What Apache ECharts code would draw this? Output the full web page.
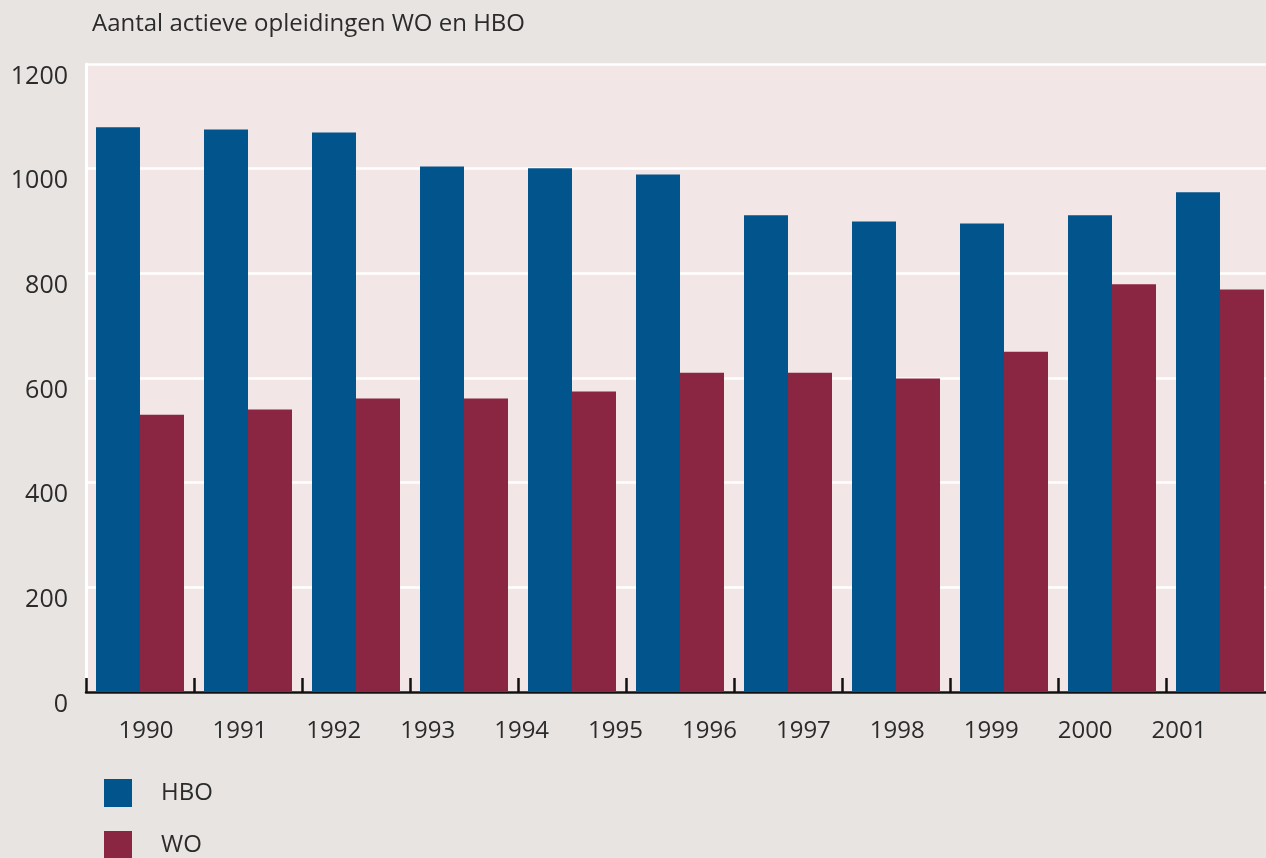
<!DOCTYPE html>
<html>
<head>
    <meta http-equiv="Content-Type" content="text/html; charset=utf-8"/>
    <script src="https://cdn.jsdelivr.net/npm/echarts@6/dist/echarts.min.js"></script>
    <style>
        body { margin: 0; background: #e8e4e1; }
    </style>
</head>
<body>
<div id="main" style="width:1266px;height:858px"></div>

<script type="text/javascript">
    // tick labels under the chart (12 of them, the bars only come in 11 groups)
    var years = ['1990', '1991', '1992', '1993', '1994', '1995', '1996', '1997', '1998', '1999', '2000', '2001'];
    // bar values
    var hbo = [1079, 1075, 1069, 1004, 1001, 989, 911, 899, 895, 911, 955];
    var wo = [530, 540, 561, 561, 574, 610, 610, 599, 650, 779, 769];
    var yTicks = [0, 200, 400, 600, 800, 1000, 1200];

    var groups = years.slice(0, hbo.length);
    var font = '"Open Sans", "Noto Sans", sans-serif';
    var textColor = '#2b2b2b';

    // one legend per row, so they stack even though the canvas cuts the second one
    function legendRow(name, top) {
        return {
            orient: 'vertical',
            left: 104,
            top: top,
            padding: 0,
            itemWidth: 28,
            itemHeight: 28,
            icon: 'rect',
            data: [name],
            textStyle: {color: textColor, fontSize: 24, fontFamily: font, padding: [0, 0, 0, 24]}
        };
    }

    var chart = echarts.init(document.getElementById('main'));
    var option = {
        backgroundColor: '#e8e4e1',
        animation: false,
        title: {
            text: 'Aantal actieve opleidingen WO en HBO',
            left: 92,
            top: 12,
            padding: 0,
            textStyle: {color: textColor, fontSize: 24, fontWeight: 'normal', fontFamily: font}
        },
        legend: [legendRow('HBO', 779), legendRow('WO', 831)],
        grid: [
            // the last bar group runs past the right edge of the picture
            {left: 86, top: 64, width: hbo.length * 108, height: 628, show: true,
                outerBoundsMode: 'none', containLabel: false,
                backgroundColor: '#f2e6e6', borderWidth: 0},
            {left: 99, top: 64, width: 1127, height: 628, outerBoundsMode: 'none'}
        ],
        xAxis: [
            {
                type: 'category',
                gridIndex: 0,
                data: groups,
                axisLine: {lineStyle: {color: '#111', width: 2.5}},
                axisTick: {show: true, inside: true, length: 14, lineStyle: {color: '#111', width: 2.5}},
                axisLabel: {show: false}
            },
            {
                type: 'category',
                gridIndex: 1,
                data: years,
                axisLine: {show: false},
                axisTick: {show: false},
                axisLabel: {margin: 27, color: textColor, fontSize: 24, fontFamily: font}
            }
        ],
        yAxis: [
            {
                type: 'value',
                gridIndex: 0,
                min: yTicks[0],
                max: yTicks[yTicks.length - 1],
                interval: 200,
                axisLine: {show: true, lineStyle: {color: '#ffffff', width: 3}},
                axisTick: {show: false},
                splitLine: {lineStyle: {color: '#ffffff', width: 2.5}},
                axisLabel: {margin: 18, verticalAlign: 'top', color: textColor, fontSize: 25, fontFamily: font,
                    formatter: function (v) { return String(v); }}
            },
            {type: 'value', gridIndex: 1, show: false, min: 0, max: 1200}
        ],
        series: [
            {name: 'HBO', type: 'bar', xAxisIndex: 0, yAxisIndex: 0, data: hbo,
                barWidth: 44, barGap: '0%', itemStyle: {color: '#02548c'}},
            {name: 'WO', type: 'bar', xAxisIndex: 0, yAxisIndex: 0, data: wo,
                barWidth: 44, barGap: '0%', itemStyle: {color: '#8a2542'}}
        ]
    };
    chart.setOption(option);
</script>
</body>
</html>
